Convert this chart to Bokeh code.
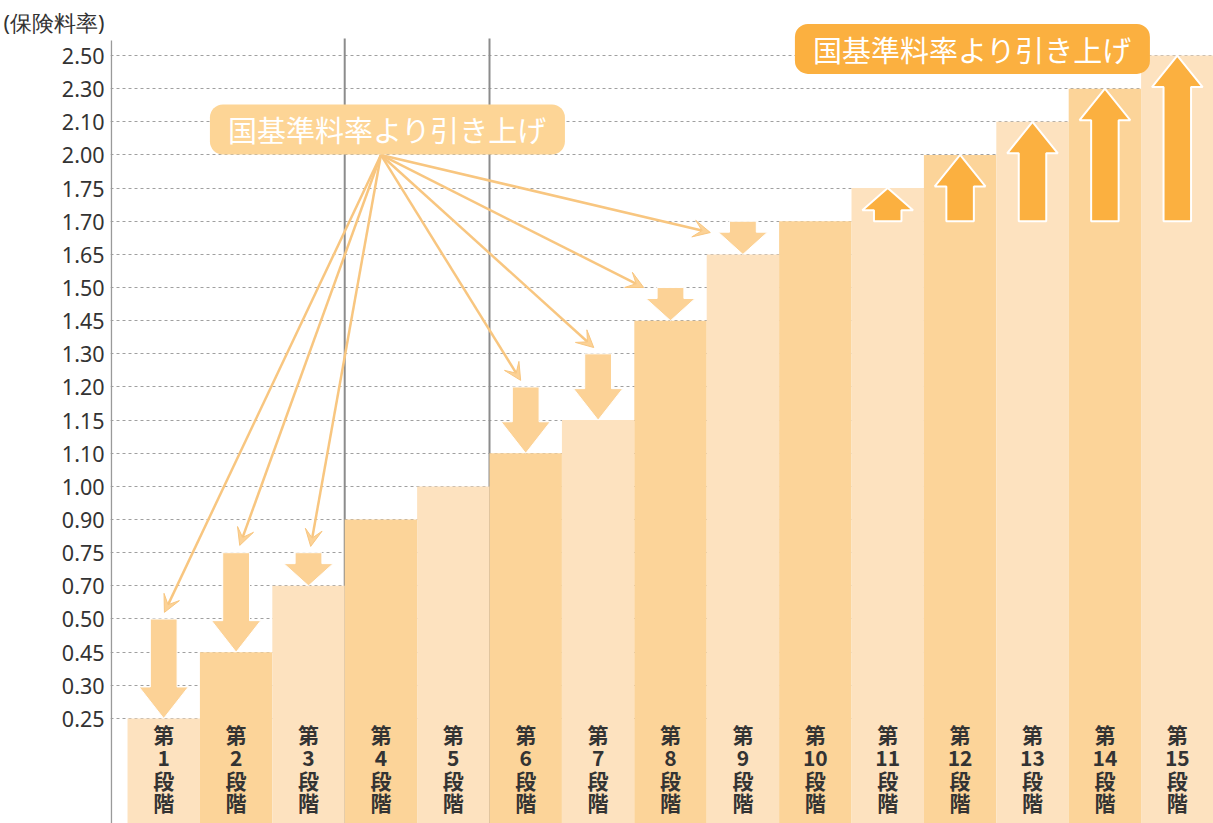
from bokeh.plotting import figure
from bokeh.models import FixedTicker, Label, Arrow, VeeHead
from bokeh.core.properties import value
from bokeh.embed import file_html
from bokeh.resources import INLINE

# ---- data ----
tick_labels = ["0.25", "0.30", "0.45", "0.50", "0.70", "0.75", "0.90", "1.00", "1.10", "1.15",
               "1.20", "1.30", "1.45", "1.50", "1.65", "1.70", "1.75", "2.00", "2.10", "2.30", "2.50"]
stages = list(range(1, 16))
stage_names = [f"第\n{s}\n段\n階" for s in stages]
rates = ["0.25", "0.45", "0.70", "0.90", "1.00", "1.10", "1.15", "1.45", "1.65", "1.70",
         "1.75", "2.00", "2.10", "2.30", "2.50"]

down_stages = [1, 2, 3, 6, 7, 8, 9]
down_from = ["0.50", "0.75", "0.75", "1.20", "1.30", "1.50", "1.70"]
down_to = ["0.25", "0.45", "0.70", "1.10", "1.15", "1.45", "1.65"]

up_stages = [11, 12, 13, 14, 15]
up_from = ["1.70", "1.70", "1.70", "1.70", "1.70"]
up_to = ["1.75", "2.00", "2.10", "2.30", "2.50"]

label_text = "国基準料率より引き上げ"
axis_title = "(保険料率)"

# ---- layout helpers ----
idx = {t: i for i, t in enumerate(tick_labels)}
n = len(tick_labels)
light, dark = "#FDE2BF", "#FCD499"
bar_colors = [light if s % 2 == 1 else dark for s in stages]

x0, x1 = 0.265, 15.5
y_bot, y_top = -3.17, 21.66
p = figure(width=1213, height=823, x_range=(x0, x1), y_range=(y_bot, y_top),
           min_border_left=110, min_border_right=0, min_border_top=0, min_border_bottom=0,
           output_backend="svg", toolbar_location=None)
p.outline_line_color = None
p.xaxis.visible = False
p.xgrid.visible = False
p.background_fill_color = "white"

title_pos = n  # axis title sits one step above the highest tick
p.yaxis.ticker = FixedTicker(ticks=list(range(n)) + [title_pos])
overrides = {i: t for i, t in enumerate(tick_labels)}
overrides[title_pos] = axis_title
p.yaxis.major_label_overrides = overrides
p.yaxis.major_tick_out = 0
p.yaxis.major_tick_in = 0
p.yaxis.minor_tick_out = 0
p.yaxis.minor_tick_in = 0
p.yaxis.major_label_standoff = 6
p.yaxis.major_label_text_font = "Noto Sans"
p.yaxis.major_label_text_font_size = "21.5px"
p.yaxis.major_label_text_color = "#333333"
p.yaxis.axis_line_color = None
p.ygrid.ticker = FixedTicker(ticks=list(range(n)))
p.ygrid.grid_line_color = "#a0a0a0"
p.ygrid.grid_line_dash = "3 3"
p.ygrid.grid_line_width = 1

# vertical reference lines
frame_top = n - 1 + 0.51
p.segment(x0=[3.5, 5.5], y0=[-4, -4], x1=[3.5, 5.5], y1=[frame_top, frame_top],
          line_color="#8c8c8c", line_width=2)

# bars
p.vbar(x=stages, top=[idx[r] for r in rates], bottom=-4, width=1,
       fill_color=bar_colors, line_color=None)

# axis line (starts just above the top tick)
p.segment(x0=[x0 + 0.012], y0=[-4], x1=[x0 + 0.012], y1=[n - 1 + 0.45],
          line_color="#9a9a9a", line_width=1.5)

# stage labels
p.text(x=stages, y=[-0.02] * len(stages), text=stage_names,
       text_font=value("Noto Sans CJK JP"), text_font_size="21px", text_font_style="bold",
       text_color="#333333", text_align="center", text_baseline="top", text_line_height=0.76)


def arrow_poly(c, ya, yb_, sw=0.185, hw=0.34):
    L = abs(yb_ - ya)
    d = 1 if yb_ > ya else -1
    h = min(0.95, 0.67 * L)
    yb = yb_ - d * h
    xs = [c - sw, c + sw, c + sw, c + hw, c, c - hw, c - sw]
    ys = [ya, ya, yb, yb, yb_, yb, yb]
    return xs, ys


dx_list, dy_list = [], []
for s, a, b in zip(down_stages, down_from, down_to):
    xs, ys = arrow_poly(s, idx[a], idx[b])
    dx_list.append(xs)
    dy_list.append(ys)
p.patches(xs=dx_list, ys=dy_list, fill_color="#FCD296", line_color="white", line_width=1)

ux_list, uy_list = [], []
for s, a, b in zip(up_stages, up_from, up_to):
    xs, ys = arrow_poly(s, idx[a], idx[b], sw=0.19, hw=0.35)
    ux_list.append(xs)
    uy_list.append(ys)
p.patches(xs=ux_list, ys=uy_list, fill_color="#FBB040", line_color="white", line_width=2)

# thin pointer arrows from the lower label
tip_dx = [0.01, 0.05, 0.03, -0.07, -0.06, -0.37, -0.45]
tip_dy = [0.2, 0.22, 0.19, 0.2, 0.19, 0.0, -0.34]
src_x, src_y = 4.0, 17.0
for s, a, ddx, ddy in zip(down_stages, down_from, tip_dx, tip_dy):
    p.add_layout(Arrow(x_start=src_x, y_start=src_y, x_end=s + ddx, y_end=idx[a] + ddy,
                       line_color="#F8C680", line_width=2.5,
                       end=VeeHead(size=17, fill_color="#FCD296", line_color="#F8C680",
                                   line_width=1)))

p.add_layout(Label(x=4.09, y=17.77, text=label_text, text_align="center", text_baseline="middle",
                   text_color="white", text_font="Noto Sans CJK JP", text_font_size="29px",
                   text_font_style="normal",
                   background_fill_color="#FDD596", padding=(18, 4), border_radius=13))
p.add_layout(Label(x=12.17, y=20.2, text=label_text, text_align="center", text_baseline="middle",
                   text_color="white", text_font="Noto Sans CJK JP", text_font_size="29px",
                   text_font_style="normal",
                   background_fill_color="#FBB040", padding=(18, 4), border_radius=13))

open("out.html", "w").write(file_html(p, INLINE))
